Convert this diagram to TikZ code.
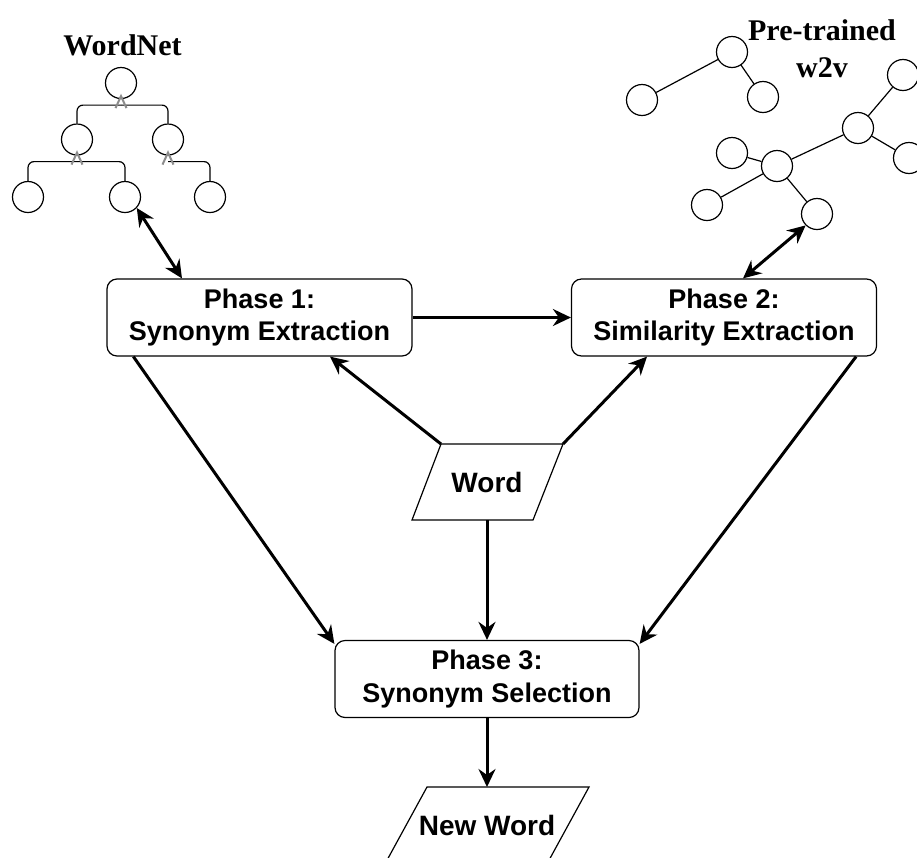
\documentclass[tikz,border=0pt]{standalone}
\usepackage{fontspec}
\setmainfont{Liberation Sans}
\newfontfamily\titlefont{Liberation Serif}
\usetikzlibrary{arrows.meta}

\begin{document}
\begin{tikzpicture}[x=1pt,y=-1pt,
  phase/.style={draw, line width=1.2pt, rounded corners=10pt,
    minimum width=305pt, minimum height=77pt, inner sep=0pt, align=center,
    font=\fontsize{27}{32.5}\selectfont\bfseries},
  ball/.style={draw, circle, line width=1.2pt, fill=white,
    minimum size=31pt, inner sep=0pt},
  twig/.style={line width=1.2pt, rounded corners=6pt},
  chevron/.style={draw=gray!90, line width=2pt, line join=miter},
  flow/.style={line width=3pt, -{Stealth[length=18pt,width=17pt,inset=6pt]}},
  twoway/.style={line width=3pt,
    {Stealth[length=18pt,width=17pt,inset=6pt]}-{Stealth[length=18pt,width=17pt,inset=6pt]}},
  title/.style={font=\titlefont\fontsize{30}{37}\selectfont\bfseries, align=center},
  wordlabel/.style={font=\fontsize{28}{32}\selectfont\bfseries, inner sep=0pt}
]
\useasboundingbox (0,0) rectangle (917,857);
\clip (0,0) rectangle (917,857);
\fill[white] (0,0) rectangle (917,857);

% ---------- WordNet hierarchy ----------
\node[title, anchor=base] (wordnet) at (122.5,55) {WordNet};
\node[ball] (wn1) at (121,83) {};
\node[ball] (wn2) at (77,139.5) {};
\node[ball] (wn3) at (168,139.5) {};
\node[ball] (wn4) at (28,197) {};
\node[ball] (wn5) at (125,197) {};
\node[ball] (wn6) at (210,197) {};

% child-to-parent links: up, across, and into the parent's open arrow
\draw[twig] (wn2.north) |- ([yshift=-6pt]wn1.south);
\draw[twig] (wn3.north) |- ([yshift=-6pt]wn1.south);
\draw[twig] (wn4.north) |- ([yshift=-6pt]wn2.south);
\draw[twig] (wn5.north) |- ([yshift=-6pt]wn2.south);
\draw[twig] (wn6.north) |- ([yshift=-6pt]wn3.south);

\foreach \p in {wn1,wn2,wn3}
  \draw[chevron] ([xshift=-5.5pt,yshift=-9pt]\p.south) -- ([yshift=3pt]\p.south)
                 -- ([xshift=5.5pt,yshift=-9pt]\p.south);

% ---------- word2vec embedding graph ----------
\node[title] (w2v) at (822,49) {Pre-trained\\w2v};
\node[ball] (va) at (732,52) {};
\node[ball] (vb) at (642,100) {};
\node[ball] (vc) at (763,97) {};
\node[ball] (vd) at (903,75) {};
\node[ball] (ve) at (858,128) {};
\node[ball] (vf) at (909,158) {};
\node[ball] (vg) at (732,153) {};
\node[ball] (vh) at (777,166) {};
\node[ball] (vi) at (707,205) {};
\node[ball] (vj) at (817,214) {};
\draw[line width=1.2pt] (va) -- (vb) (va) -- (vc) (ve) -- (vd) (ve) -- (vf)
  (vh) -- (ve) (vh) -- (vg) (vh) -- (vi) (vh) -- (vj);

% ---------- phases ----------
\node[phase] (p1) at (259.5,317.5) {Phase 1:\\Synonym Extraction};
\node[phase] (p2) at (724,317.5) {Phase 2:\\Similarity Extraction};
\node[phase, minimum width=304pt] (p3) at (487,679) {Phase 3:\\Synonym Selection};

% ---------- input and output words ----------
\coordinate (wtl) at (441,444);
\coordinate (wtr) at (563,444);
\coordinate (wbr) at (533,520);
\coordinate (wbl) at (412,520);
\draw[line width=1.2pt, line join=miter] (wtl) -- (wtr) -- (wbr) -- (wbl) -- cycle;
\node[wordlabel] (word) at (487,482) {Word};
\coordinate (wmid) at (487,520);

\coordinate (ntl) at (427,787);
\coordinate (ntr) at (589,787);
\coordinate (nbr) at (548,862);
\coordinate (nbl) at (386,862);
\draw[line width=1.2pt, line join=miter] (ntl) -- (ntr) -- (nbr) -- (nbl) -- cycle;
\node[wordlabel] (newword) at (487,825) {New Word};
\coordinate (ntop) at (487,787);

% ---------- connectors ----------
\draw[twoway] (wn5.-43) -- ([xshift=-77.5pt]p1.north);
\draw[twoway] (vj.-135) -- ([xshift=19pt]p2.north);
\draw[flow] (p1.east) -- (p2.west);
\draw[flow] (wtl) -- ([xshift=70.5pt]p1.south);
\draw[flow] (wtr) -- ([xshift=-77pt]p2.south);
\draw[flow] ([xshift=27pt]p1.south west) -- ([yshift=-4pt]p3.north west);
\draw[flow] ([xshift=-21pt]p2.south east) -- ([yshift=-4pt]p3.north east);
\draw[flow] (wmid) -- (p3.north);
\draw[flow] (p3.south) -- (ntop);
\end{tikzpicture}
\end{document}
